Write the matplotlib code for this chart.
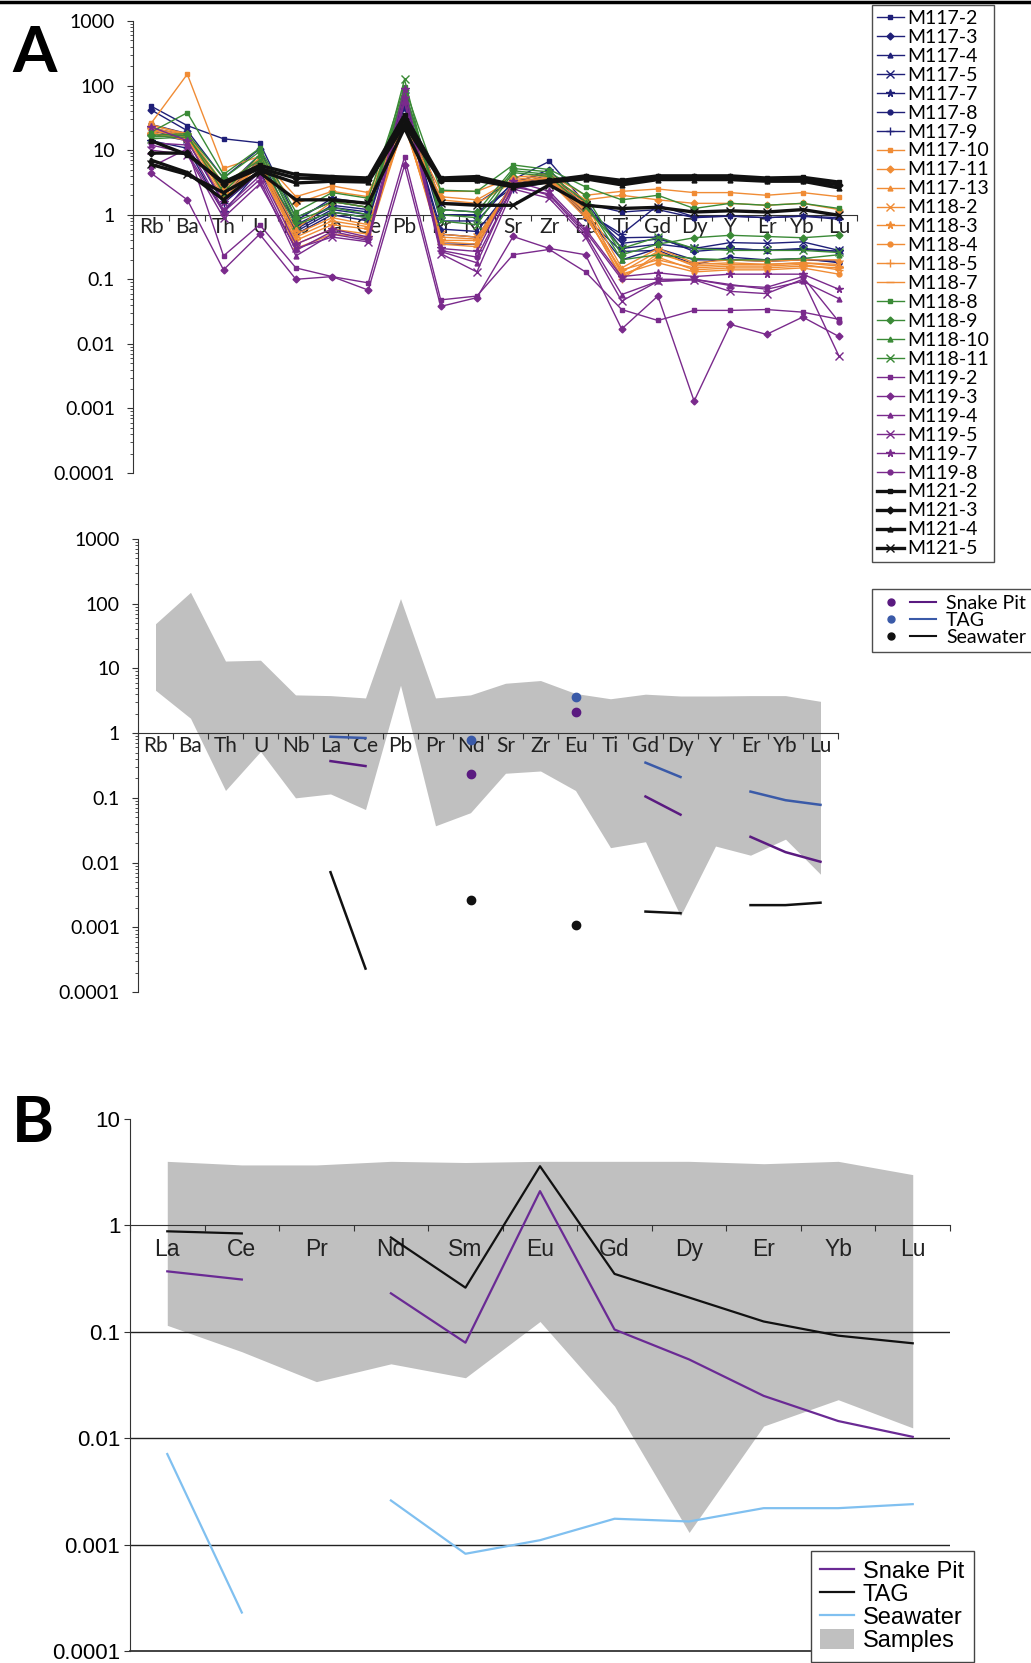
import numpy as np
import matplotlib.pyplot as plt
from matplotlib.lines import Line2D
from matplotlib.patches import Patch
from matplotlib.legend_handler import HandlerTuple
from matplotlib.ticker import LogLocator, NullFormatter, FixedLocator, FixedFormatter

plt.rcParams['font.family'] = ['Lato', 'DejaVu Sans']

# ---- data -------------------------------------------------------------
elements = ['Rb', 'Ba', 'Th', 'U', 'Nb', 'La', 'Ce', 'Pb', 'Pr', 'Nd',
            'Sr', 'Zr', 'Eu', 'Ti', 'Gd', 'Dy', 'Y', 'Er', 'Yb', 'Lu']

m117_names = ['M117-2', 'M117-3', 'M117-4', 'M117-5', 'M117-7', 'M117-8', 'M117-9']
m117_values = [
    [48, 24, 15, 13, 0.9, 1.6, 1.3, 80, 1.5, 1.5, 3.5, 6.7, 1.5, 1.1, 1.2, 0.9, 0.95, 0.9, 0.95, 0.9],
    [42, 20, 3.7, 10.5, 0.7, 1.3, 1.1, 60, 1.0, 1.0, 3.0, 5.0, 1.2, 0.44, 0.45, 0.27, 0.3, 0.28, 0.3, 0.27],
    [22, 17, 2.5, 8.5, 0.55, 1.1, 0.9, 50, 0.6, 0.55, 2.8, 4.2, 1.0, 0.2, 0.3, 0.2, 0.2, 0.19, 0.2, 0.19],
    [20, 15, 3.0, 6.0, 0.6, 1.2, 1.0, 70, 0.8, 0.8, 3.2, 4.5, 1.3, 0.36, 0.42, 0.3, 0.37, 0.36, 0.38, 0.28],
    [14, 10.7, 1.1, 5.0, 0.8, 1.8, 1.5, 45, 1.2, 1.1, 2.6, 3.5, 1.6, 0.3, 0.35, 0.3, 0.3, 0.28, 0.29, 0.27],
    [25, 18, 2.0, 7.0, 0.5, 1.0, 0.8, 55, 0.5, 0.45, 3.0, 3.8, 0.9, 0.27, 0.28, 0.17, 0.22, 0.2, 0.21, 0.18],
    [18, 14, 1.5, 4.5, 0.65, 1.4, 1.2, 65, 0.35, 0.35, 2.5, 3.2, 1.1, 0.5, 1.4, 0.93, 0.95, 0.9, 0.95, 0.85],
]
m117b_names = ['M117-10', 'M117-11', 'M117-13', 'M118-2', 'M118-3', 'M118-4', 'M118-5', 'M118-7']
m117b_values = [
    [26, 150, 5.2, 8.0, 1.9, 2.8, 2.2, 30, 2.3, 2.3, 3.8, 4.2, 2.0, 2.3, 2.5, 2.2, 2.2, 2.0, 2.2, 1.9],
    [24, 18, 3.0, 7.0, 1.5, 2.3, 1.9, 28, 1.9, 1.7, 3.5, 4.0, 1.7, 2.0, 1.7, 1.5, 1.5, 1.4, 1.5, 1.2],
    [22, 17, 2.6, 6.5, 0.6, 1.6, 1.3, 27, 1.7, 1.5, 3.2, 3.8, 1.5, 0.15, 0.3, 0.18, 0.2, 0.19, 0.2, 0.2],
    [20, 16, 2.4, 6.0, 0.5, 0.9, 0.7, 25, 0.5, 0.45, 3.0, 3.5, 1.2, 0.13, 0.27, 0.16, 0.17, 0.17, 0.18, 0.17],
    [18, 15, 2.2, 5.5, 0.4, 0.7, 0.6, 26, 0.4, 0.4, 2.8, 3.4, 1.0, 0.11, 0.22, 0.14, 0.15, 0.15, 0.16, 0.15],
    [25, 17, 2.8, 7.5, 0.35, 0.6, 0.5, 29, 0.38, 0.35, 3.3, 3.7, 1.3, 0.12, 0.18, 0.13, 0.14, 0.14, 0.15, 0.12],
    [21, 16, 2.0, 6.2, 0.45, 0.8, 0.65, 24, 0.45, 0.42, 2.9, 3.6, 1.1, 0.1, 0.25, 0.17, 0.18, 0.17, 0.18, 0.16],
    [19, 14, 1.8, 5.8, 0.3, 0.5, 0.45, 27, 0.35, 0.32, 3.1, 3.3, 0.9, 0.14, 0.2, 0.15, 0.16, 0.16, 0.17, 0.14],
]
m118_names = ['M118-8', 'M118-9', 'M118-10', 'M118-11']
m118_values = [
    [19, 38, 4.2, 10.7, 1.1, 2.2, 1.8, 95, 2.4, 2.3, 5.9, 5.0, 2.7, 1.7, 2.0, 1.25, 1.5, 1.4, 1.5, 1.25],
    [17, 18, 3.7, 9.5, 0.9, 1.6, 1.3, 85, 1.2, 1.1, 5.2, 4.6, 2.0, 0.24, 0.35, 0.44, 0.48, 0.46, 0.44, 0.48],
    [16, 17, 2.2, 8.5, 0.8, 1.3, 1.0, 80, 1.0, 0.9, 4.8, 4.2, 1.6, 0.2, 0.24, 0.21, 0.2, 0.2, 0.21, 0.24],
    [15, 16, 3.0, 7.0, 0.7, 1.1, 0.9, 125, 0.8, 0.7, 4.5, 3.9, 1.3, 0.3, 0.45, 0.3, 0.28, 0.28, 0.28, 0.26],
]
m119_names = ['M119-2', 'M119-3', 'M119-4', 'M119-5', 'M119-7', 'M119-8']
m119_values = [
    [5.5, 10.5, 0.23, 0.7, 0.15, 0.11, 0.088, 7.8, 0.048, 0.055, 0.24, 0.29, 0.13, 0.034, 0.023, 0.033, 0.033, 0.034, 0.031, 0.024],
    [4.4, 1.7, 0.14, 0.5, 0.1, 0.11, 0.068, 5.8, 0.038, 0.052, 0.46, 0.3, 0.24, 0.017, 0.055, 0.0013, 0.02, 0.014, 0.026, 0.013],
    [12, 9, 1.1, 3.5, 0.23, 0.5, 0.4, 70, 0.27, 0.18, 2.9, 2.0, 0.5, 0.058, 0.093, 0.1, 0.083, 0.07, 0.093, 0.05],
    [10, 8.5, 0.9, 3.0, 0.3, 0.45, 0.38, 60, 0.25, 0.13, 2.5, 1.8, 0.45, 0.046, 0.093, 0.098, 0.065, 0.06, 0.1, 0.0065],
    [23, 14, 1.6, 4.5, 0.35, 0.6, 0.45, 90, 0.3, 0.27, 3.3, 2.3, 0.6, 0.11, 0.126, 0.11, 0.12, 0.12, 0.12, 0.07],
    [13, 12, 1.2, 4.0, 0.28, 0.55, 0.42, 55, 0.28, 0.22, 2.7, 2.1, 0.55, 0.1, 0.1, 0.1, 0.08, 0.075, 0.11, 0.022],
]
m121_names = ['M121-2', 'M121-3', 'M121-4', 'M121-5']
m121_values = [
    [14, 8.5, 3.2, 5.8, 4.2, 3.9, 3.7, 35, 3.7, 3.9, 2.9, 3.4, 4.0, 3.4, 4.0, 4.0, 4.0, 3.7, 3.8, 3.2],
    [9, 9, 3.0, 5.2, 3.7, 3.6, 3.4, 30, 3.5, 3.6, 2.8, 3.3, 3.8, 3.1, 3.8, 3.8, 3.8, 3.5, 3.5, 2.9],
    [7, 4.5, 1.7, 4.8, 3.1, 3.3, 3.2, 25, 3.4, 3.4, 2.7, 3.2, 3.6, 2.9, 3.5, 3.5, 3.5, 3.3, 3.3, 2.6],
    [6, 4.2, 2.2, 4.5, 1.7, 1.7, 1.5, 22, 1.5, 1.4, 1.4, 2.9, 1.4, 1.25, 1.3, 1.1, 1.15, 1.1, 1.2, 0.98],
]

# range of all samples (grey field)
field_upper = [49, 150, 13, 13.4, 3.9, 3.8, 3.5, 120, 3.5, 3.9, 5.9, 6.5, 4.1, 3.4, 4.0, 3.75, 3.75, 3.8, 3.8, 3.1]
field_lower = [4.6, 1.7, 0.13, 0.52, 0.1, 0.115, 0.066, 5.5, 0.037, 0.059, 0.24, 0.26, 0.13, 0.017, 0.021, 0.0015, 0.018, 0.013, 0.023, 0.0066]

ree = ['La', 'Ce', 'Pr', 'Nd', 'Sm', 'Eu', 'Gd', 'Dy', 'Er', 'Yb', 'Lu']
snake_pit = [0.37, 0.31, np.nan, 0.23, 0.079, 2.1, 0.105, 0.055, 0.025, 0.0145, 0.0103]
tag = [0.88, 0.84, np.nan, 0.77, 0.26, 3.6, 0.35, 0.21, 0.125, 0.092, 0.078]
seawater = [0.0071, 0.00023, np.nan, 0.0026, 0.00082, 0.0011, 0.00175, 0.00165, 0.0022, 0.0022, 0.0024]
ree_upper = [4.0, 3.7, 3.7, 4.0, 3.9, 4.0, 4.0, 4.0, 3.8, 4.0, 3.0]
ree_lower = [0.115, 0.065, 0.034, 0.05, 0.037, 0.125, 0.02, 0.0013, 0.013, 0.023, 0.0125]

# ---- layout helpers ----------------------------------------------------
W, H = 1031, 1663
fig = plt.figure(figsize=(W / 100, H / 100), dpi=100)


def box(x0, y0, x1, y1):
    return [x0 / W, 1 - y1 / H, (x1 - x0) / W, (y1 - y0) / H]


def spider(ax, labels, ymin, ymax, ylabels, fs_x, fs_y, font, minor, ypad, xpad):
    n = len(labels)
    ax.set_yscale('log')
    ax.set_ylim(ymin, ymax)
    ax.set_xlim(-0.5, n - 0.5)
    ax.patch.set_alpha(0)
    for s in ['top', 'right']:
        ax.spines[s].set_visible(False)
    ax.spines['bottom'].set_position(('data', 1))
    ax.spines['bottom'].set_color('#333333')
    ax.spines['left'].set_color('#333333')
    ax.set_xticks(np.arange(n + 1) - 0.5)
    ax.set_xticklabels([])
    ax.set_xticks(np.arange(n), minor=True)
    ax.set_xticklabels(labels, minor=True, fontsize=fs_x, family=font, color='#222222')
    ax.tick_params(axis='x', which='major', direction='out', length=4, color='#333333')
    ax.tick_params(axis='x', which='minor', length=0, pad=xpad)
    ticks = [10.0 ** k for k in range(int(np.log10(ymin)), int(np.log10(ymax)) + 1)]
    ax.yaxis.set_major_locator(FixedLocator(ticks))
    ax.yaxis.set_major_formatter(FixedFormatter(ylabels))
    if minor:
        ax.yaxis.set_minor_locator(LogLocator(base=10, subs=np.arange(2, 10)))
        ax.tick_params(axis='y', which='minor', length=2.5, color='#333333')
    else:
        ax.yaxis.set_minor_locator(FixedLocator([]))
    ax.yaxis.set_minor_formatter(NullFormatter())
    ax.tick_params(axis='y', which='major', length=4, pad=ypad, labelsize=fs_y, color='#333333')
    for t in ax.get_yticklabels():
        t.set_family(font)


def isolated(vals):
    v = np.asarray(vals, dtype=float)
    out = np.full_like(v, np.nan)
    for i in range(len(v)):
        left = np.isnan(v[i - 1]) if i > 0 else True
        right = np.isnan(v[i + 1]) if i < len(v) - 1 else True
        if not np.isnan(v[i]) and left and right:
            out[i] = v[i]
    return out


lato = ['Lato', 'DejaVu Sans']
arial = ['Liberation Sans', 'DejaVu Sans']
labs_a = ['0.0001', '0.001', '0.01', '0.1', '1', '10', '100', '1000']

# ---- panel A, top: all samples ----------------------------------------
ax1 = fig.add_axes(box(133, 21, 857, 473))
spider(ax1, elements, 1e-4, 1e3, labs_a, 15, 14, lato, True, 9, 2)
x = np.arange(len(elements))
mk = ['s', 'D', '^', 'x', '*', 'o', '+', '_']
groups = [
    (m117_names, m117_values, '#1f1f78', 1.0, 3.5),
    (m117b_names, m117b_values, '#f08c35', 1.0, 3.5),
    (m118_names, m118_values, '#3a8a36', 1.0, 3.5),
    (m119_names, m119_values, '#7a2a8c', 1.0, 3.5),
    (m121_names, m121_values, '#111111', 2.4, 3.5),
]
handles = []
for names, vals, col, lw, ms in groups:
    for i, (nm, v) in enumerate(zip(names, vals)):
        m = mk[i]
        size = ms * 1.6 if m in ['*', 'x', '+', '_'] else ms
        h, = ax1.plot(x, v, color=col, lw=lw, marker=m, ms=size, mew=1.0,
                      label=nm, zorder=5 if lw > 1.5 else 3)
        handles.append(h)

fig.legend(handles=handles, loc='upper left', bbox_to_anchor=(872 / W, 1 - 5 / H),
           labelspacing=0.1, handlelength=1.4, handletextpad=0.15,
           borderpad=0.25, borderaxespad=0, frameon=True, fancybox=False,
           edgecolor='#222222', prop={'family': lato, 'size': 14})

# ---- panel A, middle: sample field with vent fluids -------------------
ax2 = fig.add_axes(box(138, 539, 838, 992))
spider(ax2, elements, 1e-4, 1e3, labs_a, 15, 14, lato, True, 9, 2)
ax2.fill_between(x, field_lower, field_upper, color='#c0c0c0', lw=0, zorder=0)

fluid_cols = {'Snake Pit': '#5a1a80', 'TAG': '#3a5aa8', 'Seawater': '#111111'}
mid_handles = []
for nm, vals in [('Snake Pit', snake_pit), ('TAG', tag), ('Seawater', seawater)]:
    on_a = [vals[ree.index(e)] if e in ree else np.nan for e in elements]
    on_a = np.array(on_a, dtype=float)
    ax2.plot(x, on_a, color=fluid_cols[nm], lw=1.8, zorder=4)
    ax2.plot(x, isolated(on_a), ls='none', marker='o', ms=6, color=fluid_cols[nm], zorder=4)
    mid_handles.append((Line2D([], [], ls='none', marker='o', ms=5, color=fluid_cols[nm]),
                        Line2D([], [], color=fluid_cols[nm], lw=1.5)))

fig.legend(mid_handles, ['Snake Pit', 'TAG', 'Seawater'], loc='upper left',
           bbox_to_anchor=(872 / W, 1 - 589 / H), handler_map={tuple: HandlerTuple(ndivide=None, pad=0.3)},
           handlelength=3.0, handletextpad=0.5, labelspacing=0.0, borderpad=0.3, borderaxespad=0,
           fancybox=False, edgecolor='#222222', prop={'family': lato, 'size': 14})

# ---- panel B: REE ------------------------------------------------------
ax3 = fig.add_axes(box(130, 1119, 950, 1651))
spider(ax3, ree, 1e-4, 10, ['0.0001', '0.001', '0.01', '0.1', '1', '10'], 16.5, 16, arial, False, 3, 9)
xr = np.arange(len(ree))
ax3.fill_between(xr, ree_lower, ree_upper, color='#c0c0c0', lw=0, zorder=0)
for v in [0.1, 0.01, 0.001]:
    ax3.axhline(v, color='#222222', lw=1, zorder=1)
ax3.axhline(1e-4, color='#222222', lw=1.2, zorder=1, clip_on=False)
ax3.plot(xr, snake_pit, color='#6a2a94', lw=1.6, zorder=4)
ax3.plot(xr, tag, color='#111111', lw=1.6, zorder=4)
ax3.plot(xr, seawater, color='#80c0f0', lw=1.6, zorder=4)

b_handles = [Line2D([], [], color='#6a2a94', lw=1.6), Line2D([], [], color='#111111', lw=1.6),
             Line2D([], [], color='#80c0f0', lw=1.6), Patch(facecolor='#c0c0c0', edgecolor='none')]
fig.legend(b_handles, ['Snake Pit', 'TAG', 'Seawater', 'Samples'], loc='upper left',
           bbox_to_anchor=(811 / W, 1 - 1551 / H), handlelength=1.4, handleheight=0.9,
           handletextpad=0.4, labelspacing=0.0, borderpad=0.4, borderaxespad=0,
           fancybox=False, edgecolor='#444444', framealpha=1, prop={'family': arial, 'size': 17})

# ---- panel letters and top rule ---------------------------------------
fig.text(12 / W, 1 - 72 / H, 'A', fontsize=46, fontweight='bold', family=lato, va='baseline')
fig.text(12 / W, 1 - 1142 / H, 'B', fontsize=46, fontweight='bold', family=lato, va='baseline')
fig.add_artist(Line2D([0, 1], [1 - 1.5 / H, 1 - 1.5 / H], color='black', lw=2.5))

fig.savefig('out.png', dpi=100)
